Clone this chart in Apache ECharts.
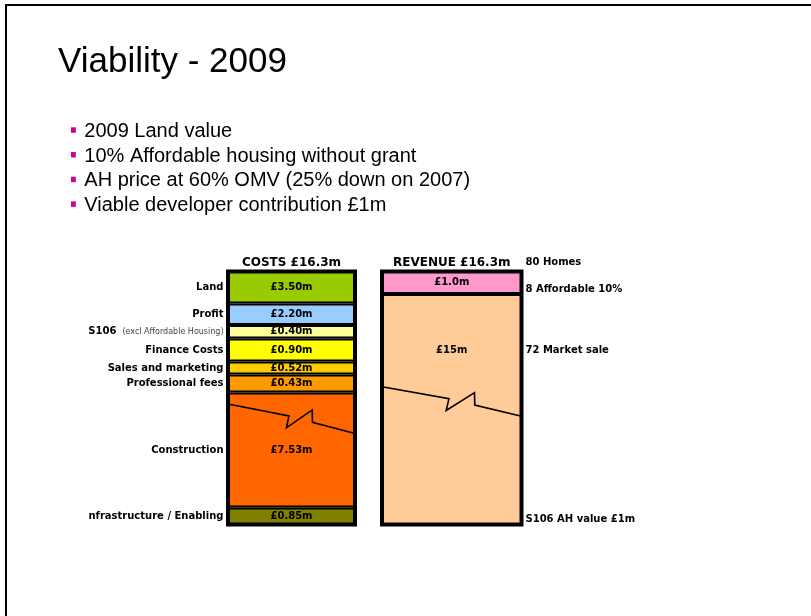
<!DOCTYPE html>
<html><head><meta charset="utf-8">
<script src="https://cdn.jsdelivr.net/npm/echarts@6/dist/echarts.min.js"></script>
<style>html,body{margin:0;padding:0;background:#fff}#c{width:811px;height:616px}</style>
</head><body><div id="c"></div>
<script>
// ---------------- data ----------------
const titleText = 'Viability - 2009';
const bulletTexts = [
  '2009 Land value',
  '10% Affordable housing without grant',
  'AH price at 60% OMV (25% down on 2007)',
  'Viable developer contribution £1m'
];
const barCategories = ['COSTS £16.3m', 'REVENUE £16.3m'];

// cost blocks, top to bottom
const costNames = ['Land', 'Profit', 'S106 (excl Affordable Housing)', 'Finance Costs',
  'Sales and marketing', 'Professional fees', 'Construction', 'nfrastructure / Enabling'];
const costValues = [3.50, 2.20, 0.40, 0.90, 0.52, 0.43, 7.53, 0.85];          // £m (printed)
const costDrawn = [32, 21.5, 13.5, 23, 13, 18, 115, 17];                      // schematic block heights as drawn (not to scale)

// revenue blocks, top to bottom
const revenueNames = ['8 Affordable 10%', '72 Market sale'];
const revenueValues = [1.0, 15];                                              // £m (printed)
const revenueValueLabels = ['£1.0m', '£15m'];
const revenueDrawn = [22.5, 230.5];                                           // schematic block heights as drawn
const revenueHeadNote = '80 Homes';
const revenueFootNote = 'S106 AH value £1m';

// axis-break (zig-zag) positions on the schematic axis
const costBreakAt = 120.5;
const revenueBreakAt = 137.8;

// ---------------- styles / layout ----------------
const costColors = ['#99CC00', '#99CCFF', '#FFFF99', '#FFFF00', '#FFCC00', '#FF9900', '#FF6600', '#808000'];
const revenueColors = ['#FF99CC', '#FFCC99'];
const FONT = 'DejaVu Sans';
const SANS = '"Liberation Sans", Arial, sans-serif';
const BREAK_FX = [0, 0.48, 0.46, 0.663, 0.665, 1];
const BREAK_DY = [0, 12, 23.8, 5.9, 18.3, 29.5];

const axisMax = costDrawn.reduce((a, b) => a + b, 0);

const boldLabel = { color: '#000', fontFamily: FONT, fontWeight: 'bold', fontSize: 10 };

function nameFormatter(name) {
  const m = name.match(/^(\S+)\s+(\(.*\))$/);
  if (m) return '{b|' + m[1] + '}{g|}{s|' + m[2] + '}';
  return '{b|' + name + '}';
}
const nameRich = {
  b: { color: '#000', fontFamily: FONT, fontWeight: 'bold', fontSize: 10 },
  g: { width: 6 },
  s: { color: '#444', fontFamily: FONT, fontSize: 8 }
};

function breakRender(params, api) {
  const c = api.coord([api.value(0), api.value(1)]);
  const w = api.size([1, 0])[0];
  const left = c[0] - w / 2;
  const pts = BREAK_FX.map((fx, k) => [left + fx * w, c[1] + BREAK_DY[k]]);
  return { type: 'polyline', shape: { points: pts }, style: { stroke: '#000', lineWidth: 1.6, fill: null } };
}

const series = [];
const common = { type: 'bar', barWidth: '100%', barGap: '-100%', silent: true, animation: false };
const clear = { color: 'transparent', borderWidth: 0 };

// cost blocks (bottom first for stacking)
for (let i = costNames.length - 1; i >= 0; i--) {
  series.push(Object.assign({}, common, {
    id: 'cost' + i, name: costNames[i], xAxisIndex: 0, yAxisIndex: 0, stack: 'cost',
    data: [costDrawn[i]],
    itemStyle: { color: costColors[i], borderColor: '#000', borderWidth: 2 },
    label: Object.assign({ show: true, position: 'inside', formatter: '£' + costValues[i].toFixed(2) + 'm' }, boldLabel)
  }));
}
// cost names on the left
for (let i = costNames.length - 1; i >= 0; i--) {
  series.push(Object.assign({}, common, {
    id: 'costName' + i, name: costNames[i] + ' label', xAxisIndex: 0, yAxisIndex: 0, stack: 'costNames',
    data: [costDrawn[i]], itemStyle: clear,
    label: { show: true, position: 'left', distance: 4.5, formatter: nameFormatter(costNames[i]), rich: nameRich }
  }));
}
// revenue blocks
const revLabelPos = [['50%', '50%'], ['50%', '24.5%']];
for (let i = revenueNames.length - 1; i >= 0; i--) {
  series.push(Object.assign({}, common, {
    id: 'rev' + i, name: revenueNames[i], xAxisIndex: 1, yAxisIndex: 1, stack: 'rev',
    data: [revenueDrawn[i]],
    itemStyle: { color: revenueColors[i], borderColor: '#000', borderWidth: 2 },
    label: Object.assign({ show: true, position: revLabelPos[i], align: 'center', verticalAlign: 'middle',
      formatter: revenueValueLabels[i] }, boldLabel)
  }));
}
// revenue notes on the right
const revNotePos = [['100%', '78%'], ['100%', '24.5%']];
for (let i = revenueNames.length - 1; i >= 0; i--) {
  series.push(Object.assign({}, common, {
    id: 'revNote' + i, name: revenueNames[i] + ' note', xAxisIndex: 1, yAxisIndex: 1, stack: 'revNotes',
    data: [revenueDrawn[i]], itemStyle: clear,
    label: Object.assign({ show: true, position: revNotePos[i], offset: [4, 0], align: 'left', verticalAlign: 'middle',
      formatter: revenueNames[i] }, boldLabel)
  }));
}
// header / footer notes
const extraNotes = [revenueHeadNote, revenueFootNote];
const extraPos = [['100%', -9], ['100%', '97.9%']];
for (let i = revenueNames.length - 1; i >= 0; i--) {
  series.push(Object.assign({}, common, {
    id: 'revExtra' + i, name: 'extra' + i, xAxisIndex: 1, yAxisIndex: 1, stack: 'revExtra',
    data: [revenueDrawn[i]], itemStyle: clear,
    label: Object.assign({ show: true, position: extraPos[i], offset: [4, 0], align: 'left', verticalAlign: 'middle',
      formatter: extraNotes[i] }, boldLabel)
  }));
}
// break lines
series.push({ type: 'custom', id: 'costBreak', xAxisIndex: 0, yAxisIndex: 0, z: 10, silent: true,
  data: [[0, costBreakAt]], renderItem: breakRender });
series.push({ type: 'custom', id: 'revBreak', xAxisIndex: 1, yAxisIndex: 1, z: 10, silent: true,
  data: [[0, revenueBreakAt]], renderItem: breakRender });

const gridCommon = { show: true, borderColor: '#000', borderWidth: 4, backgroundColor: 'transparent', top: 271.5, height: 253 };
const xCommon = (idx) => ({
  gridIndex: idx, type: 'category', data: [barCategories[idx]], position: 'top',
  axisLine: { show: false }, axisTick: { show: false },
  axisLabel: { margin: 3, color: '#000', fontFamily: FONT, fontWeight: 'bold', fontSize: 12, interval: 0 }
});
const yCommon = (idx) => ({ gridIndex: idx, type: 'value', min: 0, max: axisMax, show: false });

const graphic = [
  { type: 'polyline', shape: { points: [[6, 616], [6, 5], [811, 5]] }, style: { stroke: '#000', lineWidth: 2, fill: null } },
  { type: 'text', x: 58, y: 62, style: { text: titleText, font: '35px ' + SANS, fill: '#000', verticalAlign: 'middle' } }
];
bulletTexts.forEach((t, i) => {
  const y = 131.3 + 24.7 * i;
  graphic.push({ type: 'rect', shape: { x: 71, y: y - 4, width: 4.8, height: 5.5 }, style: { fill: '#CC0099' } });
  graphic.push({ type: 'text', x: 84.3, y: y, style: { text: t, font: '20px ' + SANS, fill: '#000', verticalAlign: 'middle' } });
});

const chart = echarts.init(document.getElementById('c'), null, { renderer: 'canvas' });
chart.setOption({
  animation: false,
  backgroundColor: '#fff',
  grid: [Object.assign({ left: 228, width: 127 }, gridCommon), Object.assign({ left: 382, width: 139.5 }, gridCommon)],
  xAxis: [xCommon(0), xCommon(1)],
  yAxis: [yCommon(0), yCommon(1)],
  series: series,
  graphic: graphic
});
</script>
</body></html>
